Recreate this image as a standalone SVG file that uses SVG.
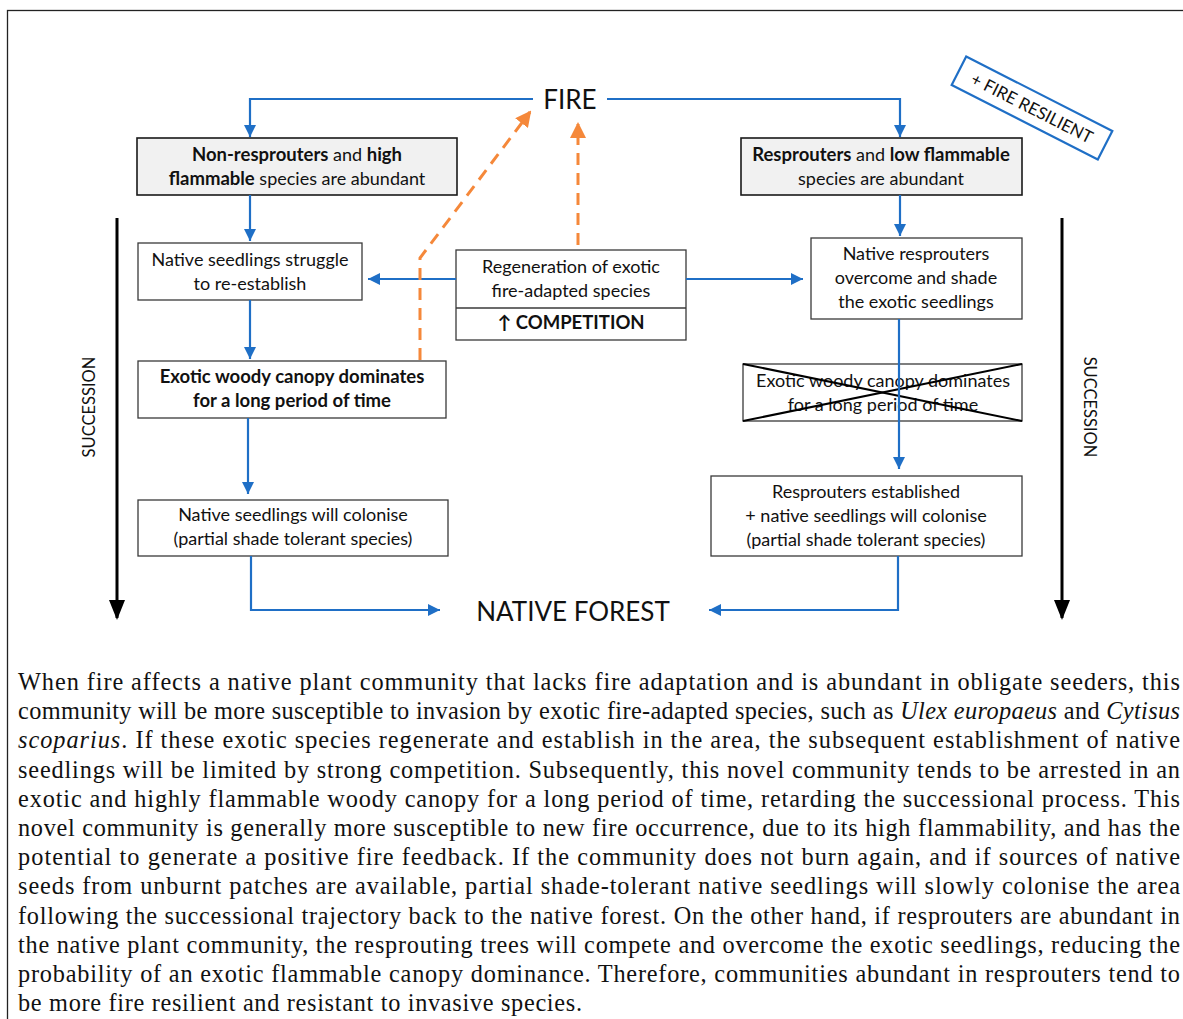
<svg xmlns="http://www.w3.org/2000/svg" width="1183" height="1019" viewBox="0 0 1183 1019">
<style>
.box{fill:#ffffff;stroke:#3a3a3a;stroke-width:1.3}
.gbox{fill:#f1f1f1;stroke:#1a1a1a;stroke-width:1.6}
.t{font-family:Lato,"Open Sans",sans-serif;font-size:18px;fill:#111;text-anchor:middle}
.b{font-weight:bold;font-size:18.5px}
.big{font-family:Lato,"Open Sans",sans-serif;font-size:26px;fill:#111;text-anchor:middle}
.suc{font-family:Lato,"Open Sans",sans-serif;font-size:16.5px;fill:#111;text-anchor:middle}
.blue{fill:none;stroke:#1f6fc6;stroke-width:2.2}
.orange{fill:none;stroke:#f5883a;stroke-width:3;stroke-dasharray:12 8}
.black{fill:none;stroke:#000;stroke-width:3}
.p{font-family:"Liberation Serif","Times New Roman",serif;font-size:24.3px;fill:#111}
.i{font-style:italic}
</style>
<defs>
<marker id="ab" markerUnits="userSpaceOnUse" markerWidth="12" markerHeight="12" refX="12" refY="6" orient="auto"><path d="M0,0 L12,6 L0,12 z" fill="#1f6fc6"/></marker>
<marker id="ao" markerUnits="userSpaceOnUse" markerWidth="16" markerHeight="16" refX="14" refY="8" orient="auto"><path d="M0,0 L16,8 L0,16 z" fill="#f5883a"/></marker>
<marker id="ak" markerUnits="userSpaceOnUse" markerWidth="20" markerHeight="16" refX="18" refY="8" orient="auto"><path d="M0,0 L20,8 L0,16 z" fill="#000"/></marker>
</defs>
<rect x="0" y="0" width="1183" height="1019" fill="#ffffff"/>
<rect x="7.5" y="10.5" width="1200" height="1100" fill="none" stroke="#222" stroke-width="1.3"/>

<g id="fire"><text class="big" x="570" y="109">FIRE</text></g>
<g id="native-forest"><text class="big" x="573" y="621">NATIVE FOREST</text></g>

<g id="fire-resilient" transform="translate(1032,108) rotate(27)">
<rect x="-82" y="-16" width="164" height="32" fill="#fff" stroke="#1f6fc6" stroke-width="2.2"/>
<text class="t" x="0" y="6" style="font-size:17px">+ FIRE RESILIENT</text>
</g>

<g id="non-resprouters">
<rect class="gbox" x="137" y="138" width="320" height="57"/>
<text class="t" x="297" y="161"><tspan class="b">Non-resprouters</tspan> and <tspan class="b">high</tspan></text>
<text class="t" x="297" y="185"><tspan class="b">flammable</tspan> species are abundant</text>
</g>

<g id="resprouters">
<rect class="gbox" x="741" y="138" width="281" height="57"/>
<text class="t" x="881" y="161"><tspan class="b">Resprouters</tspan> and <tspan class="b">low flammable</tspan></text>
<text class="t" x="881" y="185">species are abundant</text>
</g>

<g id="struggle">
<rect class="box" x="138" y="243" width="224" height="57"/>
<text class="t" x="250" y="266">Native seedlings struggle</text>
<text class="t" x="250" y="290">to re-establish</text>
</g>

<g id="regeneration">
<rect class="box" x="456" y="250" width="230" height="90"/>
<line x1="456" y1="308" x2="686" y2="308" stroke="#3a3a3a" stroke-width="1.3"/>
<text class="t" x="571" y="273">Regeneration of exotic</text>
<text class="t" x="571" y="297">fire-adapted species</text>
<text class="t b" x="571" y="329">↑  COMPETITION</text>
</g>

<g id="native-resprouters">
<rect class="box" x="811" y="238" width="211" height="81"/>
<text class="t" x="916" y="260">Native resprouters</text>
<text class="t" x="916" y="284">overcome and shade</text>
<text class="t" x="916" y="308">the exotic seedlings</text>
</g>

<g id="exotic-canopy">
<rect class="box" x="138" y="361" width="308" height="57"/>
<text class="t b" x="292" y="383">Exotic woody canopy dominates</text>
<text class="t b" x="292" y="407">for a long period of time</text>
</g>

<g id="exotic-canopy-crossed">
<rect class="box" x="743" y="364" width="279" height="57"/>
<text class="t" x="883" y="387">Exotic woody canopy dominates</text>
<text class="t" x="883" y="411">for a long period of time</text>
<line x1="743" y1="364" x2="1022" y2="421" stroke="#000" stroke-width="2"/>
<line x1="743" y1="421" x2="1022" y2="364" stroke="#000" stroke-width="2"/>
</g>

<g id="colonise">
<rect class="box" x="138" y="500" width="310" height="56"/>
<text class="t" x="293" y="521">Native seedlings will colonise</text>
<text class="t" x="293" y="545">(partial shade tolerant species)</text>
</g>

<g id="resprouters-established">
<rect class="box" x="711" y="476" width="311" height="80"/>
<text class="t" x="866" y="498">Resprouters established</text>
<text class="t" x="866" y="522">+ native seedlings will colonise</text>
<text class="t" x="866" y="546">(partial shade tolerant species)</text>
</g>

<g id="succession-labels">
<text class="suc" transform="translate(95,407) rotate(-90)">SUCCESSION</text>
<text class="suc" transform="translate(1084,407) rotate(90)">SUCCESSION</text>
</g>

<g id="connectors">
<path class="blue" d="M533,99 H250 V137" marker-end="url(#ab)"/>
<path class="blue" d="M607,99 H900 V137" marker-end="url(#ab)"/>
<path class="blue" d="M250,195 V241" marker-end="url(#ab)"/>
<path class="blue" d="M250,300 V359" marker-end="url(#ab)"/>
<path class="blue" d="M248,418 V494" marker-end="url(#ab)"/>
<path class="blue" d="M251,556 V610 H440" marker-end="url(#ab)"/>
<path class="blue" d="M456,279 H368" marker-end="url(#ab)"/>
<path class="blue" d="M686,279 H803" marker-end="url(#ab)"/>
<path class="blue" d="M900,195 V236" marker-end="url(#ab)"/>
<path class="blue" d="M899,319 V469" marker-end="url(#ab)"/>
<path class="blue" d="M898,556 V610 H709" marker-end="url(#ab)"/>
<path class="orange" d="M420,360 V258 L530,112" marker-end="url(#ao)"/>
<path class="orange" d="M578,245 V124" marker-end="url(#ao)"/>
<path class="black" d="M117,218 V618" marker-end="url(#ak)"/>
<path class="black" d="M1062,218 V618" marker-end="url(#ak)"/>
</g>

<g id="caption">
<text class="p" x="18" y="690" textLength="1162" lengthAdjust="spacing">When fire affects a native plant community that lacks fire adaptation and is abundant in obligate seeders, this</text>
<text class="p" x="18" y="719.2" textLength="1162" lengthAdjust="spacing">community will be more susceptible to invasion by exotic fire-adapted species, such as <tspan class="i">Ulex europaeus</tspan> and <tspan class="i">Cytisus</tspan></text>
<text class="p" x="18" y="748.4" textLength="1162" lengthAdjust="spacing"><tspan class="i">scoparius</tspan>.  If these exotic species regenerate and establish in the area, the subsequent establishment of native</text>
<text class="p" x="18" y="777.6" textLength="1162" lengthAdjust="spacing">seedlings will be limited by strong competition. Subsequently, this novel community tends to be arrested in an</text>
<text class="p" x="18" y="806.8" textLength="1162" lengthAdjust="spacing">exotic and highly flammable woody canopy for a long period of time, retarding the successional process. This</text>
<text class="p" x="18" y="836" textLength="1162" lengthAdjust="spacing">novel community is generally more susceptible to new fire occurrence, due to its high flammability, and has the</text>
<text class="p" x="18" y="865.2" textLength="1162" lengthAdjust="spacing">potential to generate a positive fire feedback. If the community does not burn again, and if sources of native</text>
<text class="p" x="18" y="894.4" textLength="1162" lengthAdjust="spacing">seeds from unburnt patches are available, partial shade-tolerant native seedlings will slowly colonise the area</text>
<text class="p" x="18" y="923.6" textLength="1162" lengthAdjust="spacing">following the successional trajectory back to the native forest. On the other hand, if resprouters are abundant in</text>
<text class="p" x="18" y="952.8" textLength="1162" lengthAdjust="spacing">the native plant community, the resprouting trees will compete and overcome the exotic seedlings, reducing the</text>
<text class="p" x="18" y="982" textLength="1162" lengthAdjust="spacing">probability of an exotic flammable canopy dominance. Therefore, communities abundant in resprouters tend to</text>
<text class="p" x="18" y="1011.2" textLength="564" lengthAdjust="spacing">be more fire resilient and resistant to invasive species.</text>
</g>
</svg>
